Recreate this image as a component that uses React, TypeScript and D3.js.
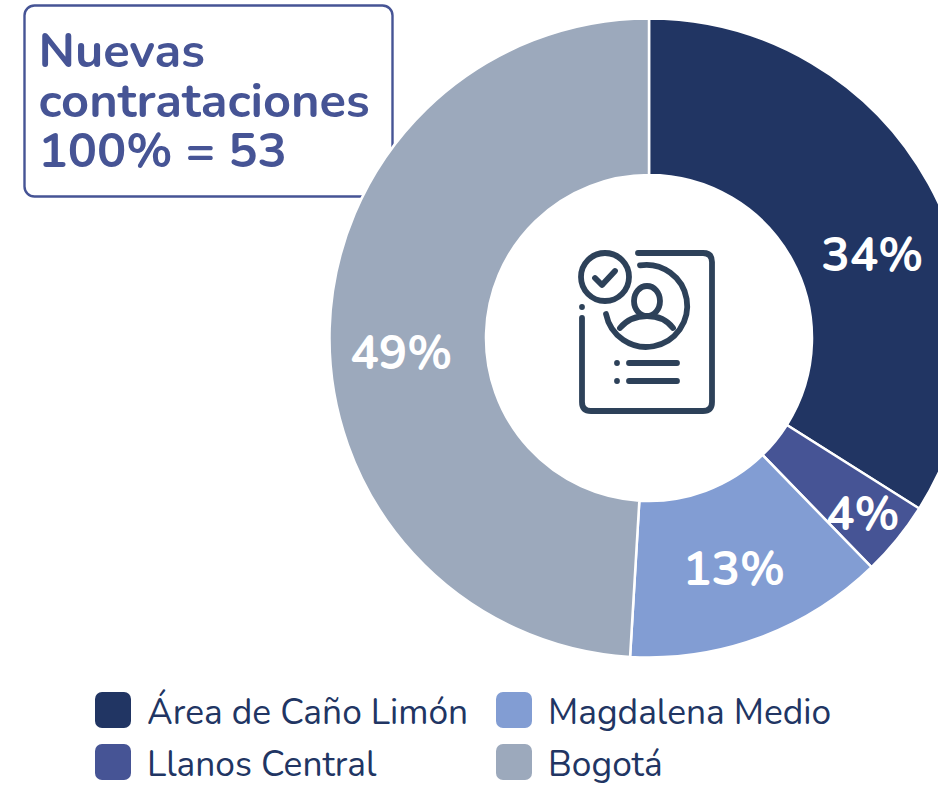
import React from "react";
import * as d3 from "d3";

const labels = ["Área de Caño Limón", "Llanos Central", "Magdalena Medio", "Bogotá"];
const counts = [18, 2, 7, 26];
const percents = [34, 4, 13, 49];
const colors = ["#213563", "#465495", "#829DD3", "#9CA9BC"];
const titleLines = ["Nuevas", "contrataciones", "100% = 53"];
const fontFamily = "Nunito, 'Open Sans', 'Noto Sans', sans-serif";

const cx = 649, cy = 338, R = 319.5, r = 163;
const labelShift = [[7, 37], [22, 21], [-1, 0], [-1, 23]];

export default function App() {
  const pie = d3.pie<number>().sort(null).value(d => d)(counts);
  const arc = d3.arc<any>().innerRadius(r).outerRadius(R);
  const labelArc = d3.arc<any>().innerRadius(247).outerRadius(247);
  const legendPos = [[95, 692], [95, 744], [496, 692], [496, 744]];
  return (
    <svg width={938} height={787} style={{ position: "absolute", left: 0, top: 0 }} fontFamily={fontFamily}>
      <rect x={24.5} y={5.5} width={368} height={191} rx={10} fill="#fff" stroke="#465495" strokeWidth={2.4} />
      {titleLines.map((t, i) => <text key={i} x={38.5} y={67 + i * 50} fill="#465495" fontSize={48.8} fontWeight={700}>{t}</text>)}
      <g transform={`translate(${cx},${cy})`}>
        {pie.map((p, i) => <path key={i} d={arc(p) as string} fill={colors[i]} stroke="#fff" strokeWidth={2.5} />)}
        {pie.map((p, i) => {
          const [x, y] = labelArc.centroid(p);
          return <text key={i} x={x + labelShift[i][0]} y={y + labelShift[i][1]} textAnchor="middle" dominantBaseline="central" fill="#fff" fontSize={47.5} fontWeight={700}>{percents[i]}%</text>;
        })}
      </g>
      <g fill="none" stroke="#2D4159" strokeWidth={5.8} strokeLinecap="round" strokeLinejoin="round">
        <path d="M638 253H703Q712 253 712 262V402Q712 411 703 411H591Q582 411 582 402V318" />
        <path d="M582 307V307" />
        <circle cx={605} cy={277} r={24} />
        <path d="M595 278L602 285L615 271" />
        <path d="M640 265.4A41 41 0 1 1 606 314" />
        <ellipse cx={647} cy={301} rx={13} ry={15} />
        <path d="M620 328Q630 316 647 316Q664 316 673 328" />
        <path d="M629 363H677M629 381H677M617 363V363M617 381V381" />
      </g>
      {labels.map((l, i) => (
        <g key={i}>
          <rect x={legendPos[i][0]} y={legendPos[i][1]} width={36} height={36} rx={7} fill={colors[i]} />
          <text x={legendPos[i][0] + 52} y={legendPos[i][1] + 31.5} fill="#213563" fontSize={35.3}>{l}</text>
        </g>
      ))}
    </svg>
  );
}
